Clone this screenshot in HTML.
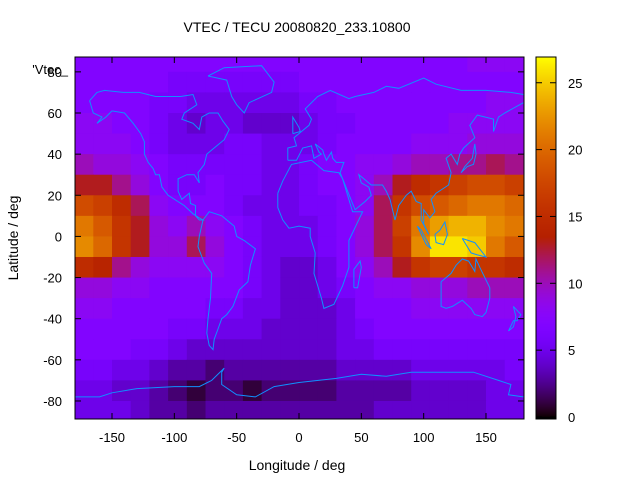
<!DOCTYPE html>
<html><head><meta charset="utf-8"><style>
body{margin:0;background:#fff;}
svg{display:block;font-family:"Liberation Sans",sans-serif;}
</style></head><body>
<svg id="chart" width="640" height="480" viewBox="0 0 640 480">
<text x="297" y="32" font-size="14" text-anchor="middle">VTEC / TECU 20080820_233.10800</text>
<g id="cells"></g>
<g id="coast"></g>
<rect x="75" y="57" width="449" height="362" fill="none" stroke="#000" stroke-width="1"/>
<g id="axes"></g>
<text x="297" y="470" font-size="14" text-anchor="middle">Longitude / deg</text>
<text transform="translate(18,238) rotate(-90)" font-size="14" text-anchor="middle">Latitude / deg</text>
<text x="68" y="74" font-size="13" text-anchor="end">'Vtec_</text>
<g id="cbar"></g>
</svg>
<script>
const lonCenters=[-172.5,-157.5,-142.5,-127.5,-112.5,-97.5,-82.5,-67.5,-52.5,-37.5,-22.5,-7.5,7.5,22.5,37.5,52.5,67.5,82.5,97.5,112.5,127.5,142.5,157.5,172.5];
const latCenters=[85,75,65,55,45,35,25,15,5,-5,-15,-25,-35,-45,-55,-65,-75,-85];
const tec=[
[7,7,7,7,7,7,7,7,7,7,7,7,7,7,7,7,7,7,7,7,7,8,8,8],
[7,7,7,7,7,6,6,6,6,6,6,6,7,7,7,7,7,7,7,7,7,7,7,7],
[7,7,7,7,6,6,5,5,5,5,5,5,6,6,7,7,7,7,7,7,7,7,8,8],
[8,8,7,7,6,5,4,5,5,4,4,4,5,6,6,7,7,7,7,7,8,8,8,8],
[8,8,8,7,6,5,5,5,6,6,5,5,5,6,7,7,7,7,8,8,8,9,9,9],
[10,9,9,8,7,6,6,6,6,6,5,5,6,7,7,8,8,9,10,10,11,11,12,11],
[13,13,11,9,7,6,6,7,6,6,5,5,6,7,7,8,10,13,15,16,17,18,18,17],
[18,17,15,12,8,7,7,7,6,5,5,5,6,6,7,8,12,16,18,19,20,21,21,20],
[21,19,16,13,9,8,10,8,7,6,5,5,5,6,7,9,12,17,21,23,24,24,22,21],
[22,20,16,13,9,9,12,9,7,6,5,5,5,6,7,9,12,16,22,26,26,25,21,19],
[15,14,11,9,8,8,8,8,7,6,5,4,4,5,7,8,10,13,16,17,17,16,16,15],
[9,9,8,8,7,7,7,7,7,6,5,4,4,5,6,7,8,8,9,9,9,10,10,10],
[8,8,7,7,7,7,7,6,6,5,5,4,4,4,5,7,7,7,8,8,8,8,8,8],
[7,7,7,7,7,6,6,5,5,5,4,4,4,4,5,6,7,7,7,7,7,7,7,7],
[7,7,7,6,6,5,4,4,4,4,4,4,4,4,5,5,6,6,6,6,6,6,6,6],
[6,6,5,5,4,3,3,2,3,3,3,3,3,3,4,4,4,4,5,5,5,5,5,6],
[5,5,4,4,3,2,1,2,2,1,2,2,2,2,3,3,3,3,4,4,4,4,5,5],
[5,5,5,4,3,3,2,3,3,3,3,3,3,3,3,3,4,4,4,4,4,4,5,5]];
const xTicks=[-150,-100,-50,0,50,100,150];
const yTicks=[-80,-60,-40,-20,0,20,40,60,80];
const cbTicks=[0,5,10,15,20,25];
const cbMax=27;
const NS='http://www.w3.org/2000/svg';
const X0=75,X1=524,Y0=57,Y1=419;
function xs(lon){return 74.6+(lon+180)*1.2467;}
function ys(lat){return 113+(60-lat)*2.057;}
function cbY(v){return 417-v*13.37;}
function pal(v){let x=Math.max(0,Math.min(1,v/cbMax));
 const r=Math.sqrt(x),g=x*x*x,b=Math.max(0,Math.sin(2*Math.PI*x));
 return `rgb(${Math.round(r*255)},${Math.round(g*255)},${Math.round(b*255)})`;}
function mk(tag,attrs,parent){const e=document.createElementNS(NS,tag);for(const k in attrs)e.setAttribute(k,attrs[k]);parent.appendChild(e);return e;}
const cells=document.getElementById('cells');
latCenters.forEach((lat,i)=>{lonCenters.forEach((lon,j)=>{
 let x0=Math.max(X0,xs(lon-7.5)),x1=Math.min(X1,xs(lon+7.5));
 let y0=Math.max(Y0,ys(lat+5)),y1=Math.min(Y1,ys(lat-5));
 const r=mk('rect',{x:x0,y:y0,width:x1-x0+0.5,height:y1-y0+0.5,fill:pal(tec[i][j])},cells);
 
 
});});
const coasts=[
[[-168,66],[-162,70],[-156,71],[-141,70],[-128,70],[-115,68],[-95,68],[-85,69],[-82,64],[-92,60],[-94,57],[-85,55],[-80,52],[-78,58],[-72,60],[-65,60],[-61,56],[-56,52],[-60,47],[-66,44],[-70,42],[-74,40],[-76,35],[-81,31],[-80,26],[-82,28],[-84,30],[-90,30],[-97,28],[-97,22],[-94,18],[-88,21],[-87,16],[-83,15],[-83,10],[-80,8],[-77,8],[-80,9],[-85,11],[-92,15],[-105,20],[-110,24],[-112,30],[-115,30],[-117,33],[-121,36],[-124,40],[-124,46],[-127,50],[-133,55],[-140,60],[-150,61],[-155,58],[-162,55],[-158,58],[-165,60],[-168,66]],
[[-77,8],[-72,12],[-62,10],[-52,5],[-50,0],[-44,-2],[-35,-6],[-39,-14],[-41,-22],[-48,-26],[-53,-34],[-58,-38],[-62,-40],[-65,-45],[-68,-50],[-69,-55],[-72,-53],[-74,-47],[-73,-40],[-71,-30],[-70,-18],[-76,-13],[-81,-5],[-80,0],[-77,8]],
[[-73,78],[-60,82],[-30,83],[-20,75],[-22,70],[-40,65],[-44,60],[-50,64],[-54,68],[-58,76],[-73,78]],
[[-17,21],[-13,27],[-6,35],[10,37],[20,32],[32,31],[35,28],[43,12],[51,12],[40,-2],[40,-15],[35,-24],[28,-33],[20,-35],[18,-30],[12,-18],[13,-8],[9,0],[9,4],[0,5],[-8,4],[-13,8],[-17,14],[-17,21]],
[[-9,37],[-9,43],[-2,44],[-4,48],[2,51],[8,54],[10,57],[5,62],[15,68],[25,71],[40,67],[45,68],[60,70],[70,73],[80,72],[100,77],[110,74],[130,71],[150,71],[170,70],[180,69]],
[[180,65],[165,60],[160,58],[156,51],[156,57],[143,59],[137,54],[141,48],[132,43],[129,40],[127,35],[122,40],[118,38],[122,31],[120,25],[110,21],[106,18],[109,12],[105,9],[100,13],[100,6],[104,1],[98,8],[98,16],[94,17],[90,22],[86,20],[80,15],[77,8],[73,18],[70,22],[67,25],[58,25],[52,28],[48,30],[50,26],[56,24],[58,20],[53,17],[45,13],[43,16],[35,28],[33,31],[36,36],[30,36],[27,38],[26,41],[22,37],[20,40],[19,42],[13,45],[16,41],[18,40],[12,38],[10,44],[3,43],[-2,37],[-9,37]],
[[114,-22],[114,-34],[118,-35],[123,-34],[131,-31],[138,-35],[141,-38],[147,-39],[150,-37],[153,-30],[153,-25],[145,-15],[142,-11],[141,-17],[136,-12],[131,-11],[126,-14],[122,-18],[114,-22]],
[[-180,-78],[-160,-78],[-150,-76],[-130,-74],[-100,-73],[-80,-73],[-70,-70],[-60,-64],[-62,-66],[-62,-72],[-50,-77],[-35,-78],[-20,-73],[0,-71],[30,-69],[50,-67],[70,-68],[90,-66],[120,-66],[140,-66],[160,-70],[170,-72],[168,-77],[180,-78]],
[[-5,50],[1,51],[0,53],[-3,56],[-5,58],[-5,55],[-5,50]],
[[44,-25],[47,-25],[50,-15],[49,-12],[44,-16],[44,-25]],
[[130,31],[135,34],[140,35],[142,40],[141,45],[139,38],[133,34],[130,31]],
[[109,1],[110,-3],[116,-4],[119,1],[117,7],[113,3],[109,1]],
[[95,5],[98,3],[106,-6],[102,-4],[95,5]],
[[172,-34],[178,-38],[175,-41],[172,-41],[168,-46],[172,-44],[174,-39],[172,-34]],
[[131,-1],[141,-3],[150,-10],[143,-9],[138,-8],[131,-1]]];
const coast=document.getElementById('coast');
coasts.forEach(pts=>{const p=mk('polyline',{points:pts.map(q=>xs(q[0]).toFixed(1)+','+ys(q[1]).toFixed(1)).join(' '),fill:'none',stroke:'#1090ff','stroke-width':1},coast);
 
 });
const axes=document.getElementById('axes');
xTicks.forEach(t=>{const x=xs(t);
 mk('line',{x1:x,x2:x,y1:Y1,y2:Y1-6,stroke:'#000'},axes);mk('line',{x1:x,x2:x,y1:Y0,y2:Y0+6,stroke:'#000'},axes);
 const l=mk('text',{x:x,y:Y1+23,'font-size':13,'text-anchor':'middle'},axes);l.textContent=t;
 
 });
yTicks.forEach(t=>{const y=ys(t);
 mk('line',{x1:X0,x2:X0+6,y1:y,y2:y,stroke:'#000'},axes);mk('line',{x1:X1,x2:X1-6,y1:y,y2:y,stroke:'#000'},axes);
 const l=mk('text',{x:X0-13,y:y+5,'font-size':13,'text-anchor':'end'},axes);l.textContent=t;
 
 });
const cb=document.getElementById('cbar');
for(let i=0;i<362;i++){const v=(417-(Y0+i))/13.37;mk('rect',{x:536,y:Y0+i,width:20,height:1.2,fill:pal(v)},cb);}
mk('rect',{x:536,y:Y0,width:20,height:362,fill:'none',stroke:'#000'},cb);
cbTicks.forEach(t=>{const y=cbY(t);
 mk('line',{x1:536,x2:542,y1:y,y2:y,stroke:'#000'},cb);mk('line',{x1:556,x2:550,y1:y,y2:y,stroke:'#000'},cb);
 const l=mk('text',{x:568,y:y+5,'font-size':13},cb);l.textContent=t;
 
 });
</script>
</body></html>
